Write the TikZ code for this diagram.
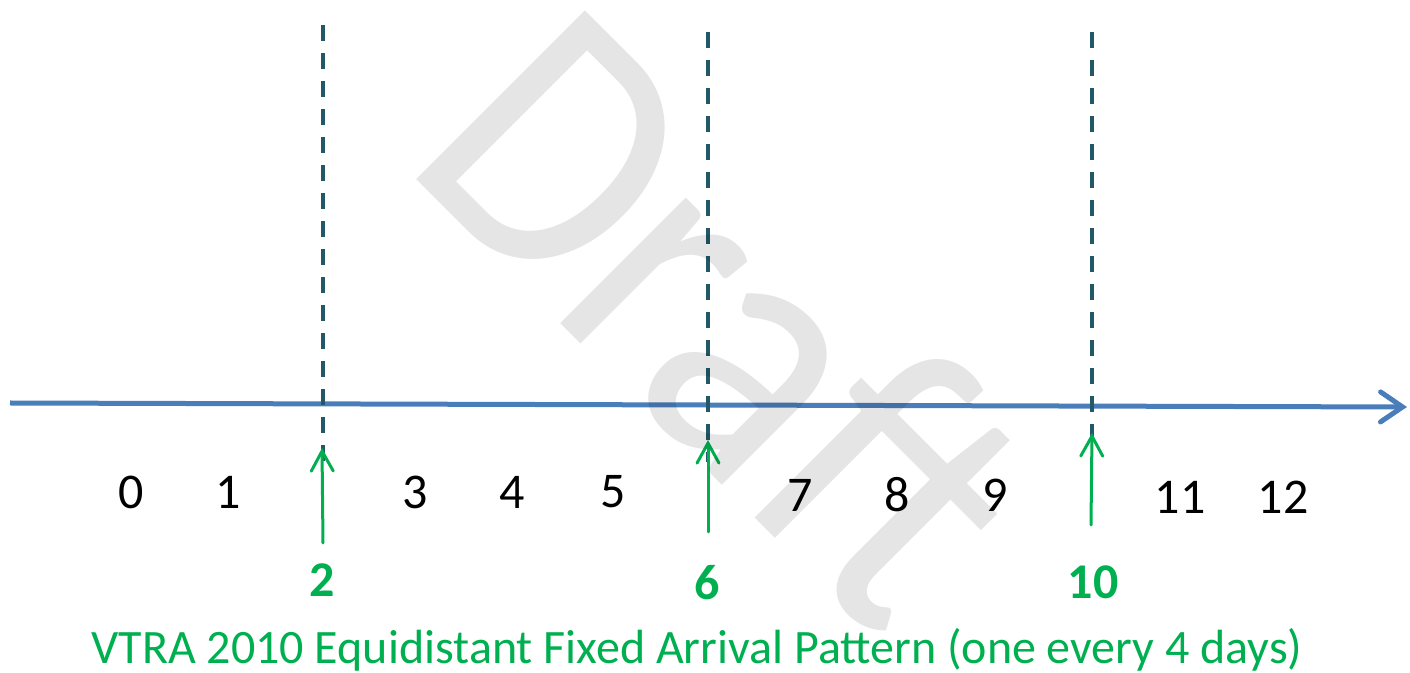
\documentclass[tikz,border=0pt]{standalone}
\usepackage{fontspec}
\setmainfont{Carlito}
\usetikzlibrary{arrows.meta}
\definecolor{axisblue}{HTML}{4A7EBB}
\definecolor{dashteal}{HTML}{215968}
\definecolor{arrgreen}{HTML}{00B050}
\tikzset{
  axisline/.style={draw=axisblue, line width=2.5pt, -{Straight Barb[length=11pt,width=15pt,line cap=round]}},
  markline/.style={draw=dashteal, line width=1.7pt, dash pattern=on 8pt off 6pt},
  greenarrow/.style={draw=arrgreen, line width=1.5pt, line cap=round, -{Straight Barb[length=10pt,width=11pt,line cap=round]}},
  daylabel/.style={font=\fontsize{25}{30}\selectfont, text=black, inner sep=0pt},
  arrlabel/.style={font=\fontsize{25}{30}\selectfont\bfseries, text=arrgreen, inner sep=0pt},
  captext/.style={font=\fontsize{24}{28}\selectfont, text=arrgreen, inner sep=0pt},
  watermark/.style={font=\fontsize{186}{220}\selectfont, text=black, opacity=0.1, inner sep=0pt, rotate=-45, xscale=0.9}
}
\begin{document}
\begin{tikzpicture}[x=0.5pt,y=-0.5pt]
\useasboundingbox (0,0) rectangle (1410,673);
% axis
\coordinate (axL) at (10,403);
\coordinate (axR) at (1407,407);
\draw[axisline] (axL) -- (axR);
% dashed markers
\coordinate (d1t) at (323,25);  \coordinate (d1b) at (323,462);
\coordinate (d2t) at (708,32);  \coordinate (d2b) at (708,462);
\coordinate (d3t) at (1092,32); \coordinate (d3b) at (1092,450);
\draw[markline] (d1t) -- (d1b);
\draw[markline] (d2t) -- (d2b);
\draw[markline] (d3t) -- (d3b);
% green arrows
\coordinate (g1s) at (323,543); \coordinate (g1e) at (322,448);
\coordinate (g2s) at (708,532); \coordinate (g2e) at (708,440);
\coordinate (g3s) at (1091,525); \coordinate (g3e) at (1092,433);
\draw[greenarrow] (g1s) -- (g1e);
\draw[greenarrow] (g2s) -- (g2e);
\draw[greenarrow] (g3s) -- (g3e);
% day labels
\node[daylabel] (n0) at (131,492) {0};
\node[daylabel] (n1) at (228,492) {1};
\node[daylabel] (n3) at (415,492) {3};
\node[daylabel] (n4) at (512,492) {4};
\node[daylabel] (n5) at (613,492) {5};
\node[daylabel] (n7) at (800,495) {7};
\node[daylabel] (n8) at (897,495) {8};
\node[daylabel] (n9) at (995,495) {9};
\node[daylabel] (n11) at (1180,497) {11};
\node[daylabel] (n12) at (1283,497) {12};
% arrival labels
\node[arrlabel] (a2) at (322,580) {2};
\node[arrlabel] (a6) at (707,583) {6};
\node[arrlabel] (a10) at (1093,582) {10};
% caption
\node[captext] (cap) at (697,650) {VTRA 2010 Equidistant Fixed Arrival Pattern (one every 4 days)};
% watermark
\node[watermark, anchor=base west] (wm) at (400,163) {Draft};
\end{tikzpicture}
\end{document}
